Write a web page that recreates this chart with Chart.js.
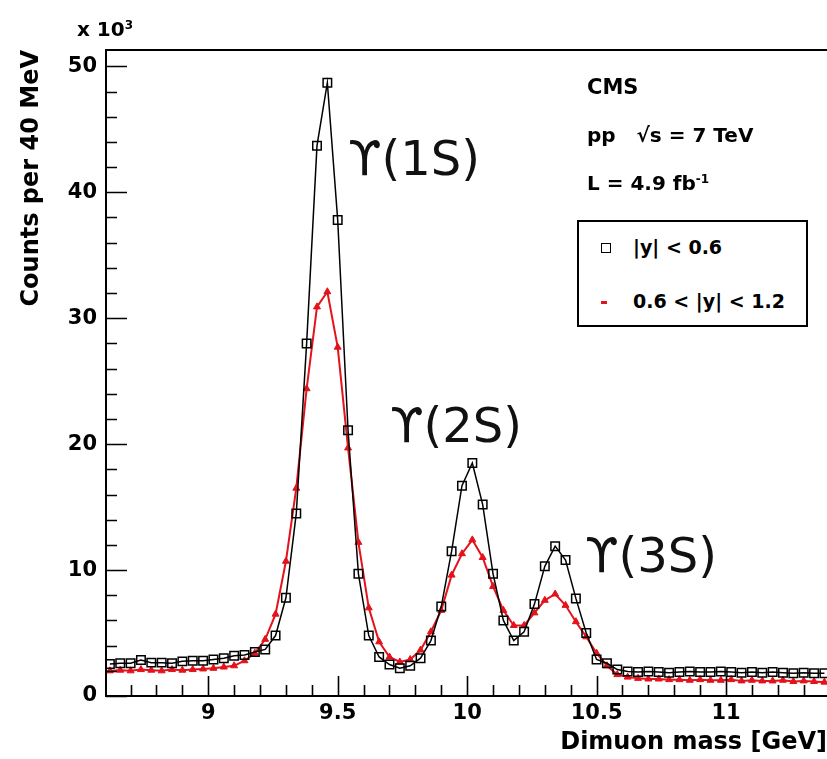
<!DOCTYPE html>
<html>
<head>
<meta charset="utf-8">
<script src="https://cdn.jsdelivr.net/npm/chart.js@4.4.1/dist/chart.umd.min.js"></script>
<style>
    html, body { margin: 0; padding: 0; background: #fff; overflow: hidden; }
    #wrap { position: relative; width: 827px; height: 759px; }
    #plot { position: absolute; left: 0; top: 0; }
    .txt { position: absolute; font-family: 'DejaVu Sans', sans-serif; font-weight: bold; color: #000; white-space: nowrap; line-height: 1; }
    .ups { position: absolute; font-family: 'DejaVu Sans', sans-serif; font-size: 48px; color: #111; white-space: nowrap; line-height: 1; }
    #legend { position: absolute; left: 577px; top: 220px; width: 231px; height: 107px; border: 2px solid #000; box-sizing: border-box; background: #fff; }
    .sq { position: absolute; width: 8px; height: 8px; border: 1.5px solid #000; }
    .dash { position: absolute; width: 6px; height: 3px; background: #e3121b; }
    sup { font-size: 0.6em; vertical-align: 0.55em; }
</style>
</head>
<body>
<div id="wrap">
    <canvas id="plot" width="827" height="759"></canvas>

    <div class="txt" style="left:77px; top:19px; font-size:20px;">x 10<sup>3</sup></div>

    <div class="txt" style="left:587px; top:77px; font-size:21px;">CMS</div>
    <div class="txt" style="left:587px; top:125px; font-size:20px;">pp&nbsp;&nbsp;&nbsp;√s = 7 TeV</div>
    <div class="txt" style="left:587px; top:173px; font-size:20px;">L = 4.9 fb<sup>-1</sup></div>

    <div id="legend">
        <div class="sq" style="left:22px; top:21px;"></div>
        <div class="txt" style="left:54px; top:16px; font-size:19px;">|y| &lt; 0.6</div>
        <div class="dash" style="left:22px; top:79px;"></div>
        <div class="txt" style="left:54px; top:70px; font-size:19px;">0.6 &lt; |y| &lt; 1.2</div>
    </div>

    <div class="ups" style="left:348px; top:134px;">ϒ(1S)</div>
    <div class="ups" style="left:390px; top:401px;">ϒ(2S)</div>
    <div class="ups" style="left:585px; top:531px;">ϒ(3S)</div>
</div>

<script>
// bin centres, 40 MeV bins [GeV]
const massBins = [
    8.62, 8.66, 8.70, 8.74, 8.78, 8.82, 8.86, 8.90, 8.94, 8.98,
    9.02, 9.06, 9.10, 9.14, 9.18, 9.22, 9.26, 9.30, 9.34, 9.38,
    9.42, 9.46, 9.50, 9.54, 9.58, 9.62, 9.66, 9.70, 9.74, 9.78,
    9.82, 9.86, 9.90, 9.94, 9.98, 10.02, 10.06, 10.10, 10.14, 10.18,
    10.22, 10.26, 10.30, 10.34, 10.38, 10.42, 10.46, 10.50, 10.54, 10.58,
    10.62, 10.66, 10.70, 10.74, 10.78, 10.82, 10.86, 10.90, 10.94, 10.98,
    11.02, 11.06, 11.10, 11.14, 11.18, 11.22, 11.26, 11.30, 11.34, 11.38
];

// counts per 40 MeV (x 10^3), |y| < 0.6
const countsCentral = [
    2.55, 2.6, 2.6, 2.85, 2.65, 2.65, 2.6, 2.75, 2.8, 2.8,
    2.9, 3.0, 3.2, 3.25, 3.5, 3.7, 4.8, 7.8, 14.5, 28.0,
    43.7, 48.7, 37.8, 21.1, 9.7, 4.8, 3.1, 2.5, 2.2, 2.4,
    3.0, 4.4, 7.1, 11.5, 16.7, 18.5, 15.2, 9.7, 6.0, 4.4,
    5.1, 7.3, 10.3, 11.9, 10.8, 7.75, 5.0, 2.9, 2.6, 2.1,
    1.95, 1.9, 1.95, 1.9, 1.85, 1.9, 1.95, 1.9, 1.9, 1.95,
    1.9, 1.85, 1.9, 1.85, 1.9, 1.85, 1.8, 1.85, 1.8, 1.8
];

// counts per 40 MeV (x 10^3), 0.6 < |y| < 1.2
const countsForward = [
    2.0, 2.05, 2.0, 2.1, 2.05, 2.0, 2.1, 2.05, 2.1, 2.15,
    2.2, 2.3, 2.4, 2.8, 3.4, 4.5, 6.5, 10.7, 16.5, 24.4,
    30.9, 32.1, 27.7, 19.7, 12.2, 7.0, 4.3, 3.1, 2.7, 2.9,
    3.65, 5.1, 6.8, 9.6, 11.3, 12.4, 11.0, 8.7, 6.8, 5.6,
    5.6, 6.6, 7.6, 8.1, 7.2, 5.9, 4.7, 3.4, 2.4, 1.7,
    1.5, 1.4, 1.35, 1.35, 1.3, 1.3, 1.25, 1.3, 1.25, 1.25,
    1.3, 1.2, 1.25, 1.2, 1.2, 1.25, 1.15, 1.2, 1.15, 1.1
];

const xTickLabels = [9, 9.5, 10, 10.5, 11];
const yTickLabels = [0, 10, 20, 30, 40, 50];

const tickFont = { family: 'DejaVu Sans', weight: 'bold', size: 21 };
const titleFont = { family: 'DejaVu Sans', weight: 'bold', size: 24 };

// ROOT style frame (right side is cut off) with inward ticks
const frameTicks = {
    id: 'frameTicks',
    afterDatasetsDraw(chart) {
        const { ctx, chartArea: a, scales } = chart;
        ctx.save();
        ctx.strokeStyle = '#000';
        ctx.lineWidth = 2;
        ctx.beginPath();
        ctx.moveTo(a.right + 2, a.top);
        ctx.lineTo(a.left, a.top);
        ctx.lineTo(a.left, a.bottom);
        ctx.lineTo(a.right + 2, a.bottom);
        ctx.stroke();

        ctx.lineWidth = 1.6;
        ctx.beginPath();
        // x ticks every 0.1 GeV, long ones every 0.5
        for (let i = 87; i <= 113; i++) {
            const px = Math.round(scales.x.getPixelForValue(i / 10)) + 0.5;
            const len = i % 5 === 0 ? 20 : 11;
            ctx.moveTo(px, a.bottom);
            ctx.lineTo(px, a.bottom - len);
        }
        // y ticks every 2, long ones every 10
        for (let v = 0; v <= 50; v += 2) {
            const py = Math.round(scales.y.getPixelForValue(v)) + 0.5;
            const len = v % 10 === 0 ? 21 : 11;
            ctx.moveTo(a.left, py);
            ctx.lineTo(a.left + len, py);
        }
        ctx.stroke();
        ctx.restore();
    }
};

new Chart(document.getElementById('plot'), {
    type: 'line',
    data: {
        datasets: [
            {
                label: '|y| < 0.6',
                data: massBins.map((m, i) => ({ x: m, y: countsCentral[i] })),
                borderColor: '#000',
                borderWidth: 1.5,
                tension: 0,
                pointStyle: 'rect',
                pointRadius: 6,
                pointBorderWidth: 1.5,
                pointBorderColor: '#000',
                pointBackgroundColor: 'rgba(0,0,0,0)'
            },
            {
                label: '0.6 < |y| < 1.2',
                data: massBins.map((m, i) => ({ x: m, y: countsForward[i] })),
                borderColor: '#e3121b',
                borderWidth: 2,
                tension: 0,
                pointStyle: 'triangle',
                pointRadius: 4,
                pointBorderWidth: 1,
                pointBorderColor: '#e3121b',
                pointBackgroundColor: '#e3121b'
            }
        ]
    },
    options: {
        responsive: false,
        animation: false,
        devicePixelRatio: 1,
        layout: { autoPadding: false, padding: { top: 50, right: 0, left: 0, bottom: 0 } },
        plugins: {
            legend: { display: false },
            tooltip: { enabled: false }
        },
        scales: {
            x: {
                type: 'linear',
                min: 8.605,
                max: 11.39,
                afterFit(scale) {
                    scale.height = 63;
                    scale.paddingLeft = 0;
                    scale.paddingRight = 0;
                },
                afterBuildTicks(scale) { scale.ticks = xTickLabels.map(v => ({ value: v })); },
                grid: { display: false, drawTicks: false },
                border: { display: false },
                ticks: {
                    color: '#000',
                    font: tickFont,
                    padding: 5,
                    maxRotation: 0,
                    autoSkip: false,
                    callback: v => String(v)
                },
                title: {
                    display: true,
                    text: 'Dimuon mass [GeV]',
                    align: 'end',
                    color: '#000',
                    font: titleFont,
                    padding: { top: 0, bottom: 2 }
                }
            },
            y: {
                min: 0,
                max: 51.3,
                afterFit(scale) {
                    scale.width = 106;
                    scale.paddingTop = 0;
                    scale.paddingBottom = 0;
                },
                afterBuildTicks(scale) { scale.ticks = yTickLabels.map(v => ({ value: v })); },
                grid: { display: false, drawTicks: false },
                border: { display: false },
                ticks: {
                    color: '#000',
                    font: tickFont,
                    padding: 9,
                    autoSkip: false,
                    callback: v => String(v)
                },
                title: {
                    display: true,
                    text: 'Counts per 40 MeV',
                    align: 'end',
                    color: '#000',
                    font: titleFont,
                    padding: { top: 17, bottom: 0 }
                }
            }
        }
    },
    plugins: [frameTicks]
});
</script>
</body>
</html>
